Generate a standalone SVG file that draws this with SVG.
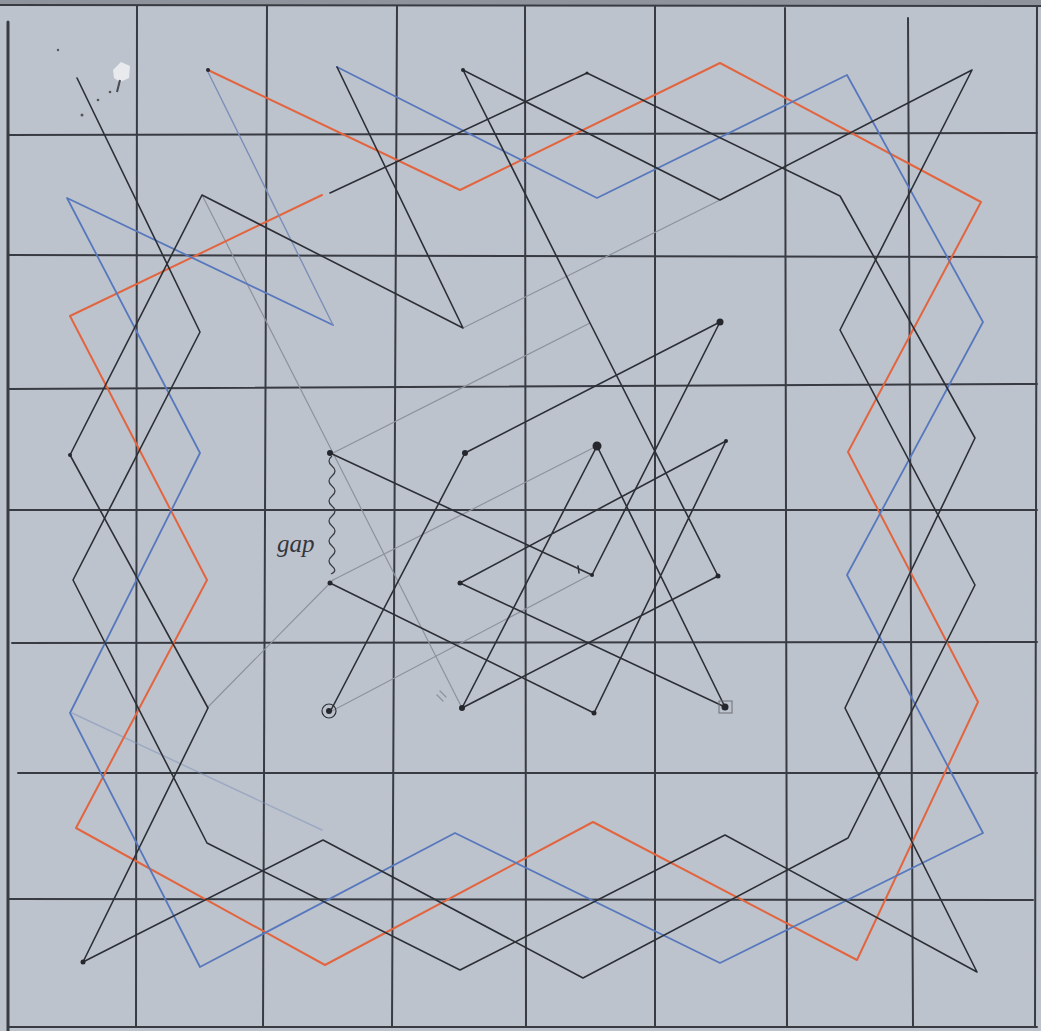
<svg xmlns="http://www.w3.org/2000/svg" width="1041" height="1031" viewBox="0 0 1041 1031">
<style>
.grid{stroke:#383b42;stroke-width:2;fill:none;stroke-linecap:round}
.blk{stroke:#2c2f35;stroke-width:1.6;fill:none;stroke-linejoin:round;stroke-linecap:round}
.org{stroke:#e2653f;stroke-width:2;fill:none;stroke-linejoin:round;stroke-linecap:round}
.blu{stroke:#5878bd;stroke-width:1.8;fill:none;stroke-linejoin:round;stroke-linecap:round}
.bluf{stroke:#7b8fb8;stroke-width:1.4;fill:none;stroke-linecap:round}
.faint{stroke:#8d929c;stroke-width:1.2;fill:none;stroke-linecap:round}
.dot{fill:#25272c}
.lbl{font-family:"Liberation Serif",serif;font-style:italic;font-size:25px;fill:#33363c}
</style>
<rect width="1041" height="1031" fill="#bdc3cd"/>
<rect width="1041" height="5" fill="#8f949c"/>
<g id="grid">
<line class="grid" x1="0" y1="5" x2="1041" y2="6"/>
<line class="grid" x1="8" y1="22" x2="8" y2="1031" style="stroke-width:3"/>
<line class="grid" x1="137" y1="6" x2="136" y2="1027"/>
<line class="grid" x1="267" y1="6" x2="263" y2="1027"/>
<line class="grid" x1="397" y1="6" x2="392" y2="1027"/>
<line class="grid" x1="525" y1="6" x2="526" y2="1027"/>
<line class="grid" x1="655" y1="6" x2="655" y2="1027"/>
<line class="grid" x1="785" y1="8" x2="787" y2="1027"/>
<line class="grid" x1="908" y1="18" x2="913" y2="1027"/>
<line class="grid" x1="1037" y1="6" x2="1035" y2="1027"/>
<line class="grid" x1="8" y1="135" x2="1037" y2="133"/>
<line class="grid" x1="8" y1="255" x2="1037" y2="257"/>
<line class="grid" x1="8" y1="389" x2="1037" y2="384"/>
<line class="grid" x1="8" y1="510" x2="1037" y2="510"/>
<line class="grid" x1="12" y1="643" x2="1037" y2="642"/>
<line class="grid" x1="18" y1="773" x2="1037" y2="773"/>
<line class="grid" x1="8" y1="899" x2="1033" y2="900"/>
<line class="grid" x1="8" y1="1027" x2="1037" y2="1027"/>
</g>
<g id="marks">
<path d="M113,70 L121,62 L130,66 L129,78 L120,82 L114,78 Z" fill="#e8eaee"/>
<path d="M120,80 L117,92" stroke="#4a4c52" stroke-width="2"/>
<circle cx="58" cy="50" r="1.2" fill="#555"/>
<circle cx="82" cy="115" r="1.5" fill="#555"/>
<circle cx="98" cy="100" r="1.3" fill="#555"/>
<circle cx="110" cy="92" r="1.3" fill="#555"/>
</g>
<g id="faint-lines">
<polyline class="faint" points="202,195 333,453 462,708"/>
<line class="faint" x1="463" y1="328" x2="720" y2="200"/>
<line class="faint" x1="590" y1="323" x2="333" y2="453"/>
<line class="faint" x1="597" y1="446" x2="333" y2="580"/>
<line class="faint" x1="333" y1="580" x2="207" y2="708"/>
<line class="faint" x1="330" y1="712" x2="590" y2="575"/>
<line class="bluf" x1="72" y1="713" x2="322" y2="830" style="opacity:0.5"/>
</g>
<g id="connectors">
<polyline id="orange" class="org" points="208,70 460,190 720,63 981,202 848,452 978,702 857,960 593,822 325,965 76,828 207,580 70,316 322,195"/>
<polyline id="blue" class="blu" points="337,67 597,198 847,75 983,322 847,575 983,833 720,963 455,833 200,967 70,713 200,453 67,198 333,325"/>
<line class="bluf" x1="333" y1="325" x2="208" y2="72"/>
<polyline id="black1" class="blk" points="77,78 200,332 73,580 207,843 460,970 725,835 977,972 845,708 975,438 840,196 587,73 330,193"/>
<polyline id="black2" class="blk" points="337,67 463,328 202,195 70,455 208,708 83,962 323,840 583,978 848,838 975,585 840,330 972,70 720,200 463,70 590,323 718,576 462,708 597,446 725,707 460,583 726,441 594,713 330,583"/>
<polyline id="black3" class="blk" points="330,453 592,575 720,322 465,453 330,712"/>
</g>
<g id="dots">
<circle class="dot" cx="720" cy="322" r="3.5"/>
<circle class="dot" cx="465" cy="453" r="3"/>
<circle class="dot" cx="597" cy="446" r="4.5"/>
<circle class="dot" cx="726" cy="441" r="2"/>
<circle class="dot" cx="460" cy="583" r="2.5"/>
<circle class="dot" cx="592" cy="575" r="2"/>
<circle class="dot" cx="718" cy="576" r="2.5"/>
<circle class="dot" cx="462" cy="708" r="3"/>
<circle class="dot" cx="594" cy="713" r="2.5"/>
<circle class="dot" cx="725" cy="707" r="3.5"/>
<circle class="dot" cx="330" cy="453" r="3"/>
<circle class="dot" cx="330" cy="583" r="2.5"/>
<circle class="dot" cx="329" cy="711" r="3"/>
<circle cx="329" cy="711" r="7" fill="none" stroke="#2c2f35" stroke-width="1.2"/>
<rect x="719" y="701" width="13" height="12" fill="none" stroke="#6a6e76" stroke-width="1"/>
<circle class="dot" cx="83" cy="962" r="2.5"/>
<circle class="dot" cx="70" cy="455" r="2"/>
<circle class="dot" cx="463" cy="70" r="2"/>
<circle class="dot" cx="587" cy="73" r="1.5"/>
<circle class="dot" cx="208" cy="70" r="2"/>
<line class="blk" x1="578" y1="566" x2="579" y2="573"/>
<line class="faint" x1="440" y1="691" x2="446" y2="697"/>
<line class="faint" x1="437" y1="695" x2="443" y2="701"/>
</g>
<g id="gap-annotation">
<path d="M332,456 q-6,5 0,10 q6,5 0,10 q-6,5 0,10 q6,5 0,10 q-6,5 0,10 q6,5 0,10 q-6,5 0,10 q6,5 0,10 q-6,5 0,10 q6,5 0,10 q-6,5 0,10 q6,5 -1,8" fill="none" stroke="#3a3d43" stroke-width="1.3"/>
<text class="lbl" x="277" y="552">gap</text>
</g>
</svg>
